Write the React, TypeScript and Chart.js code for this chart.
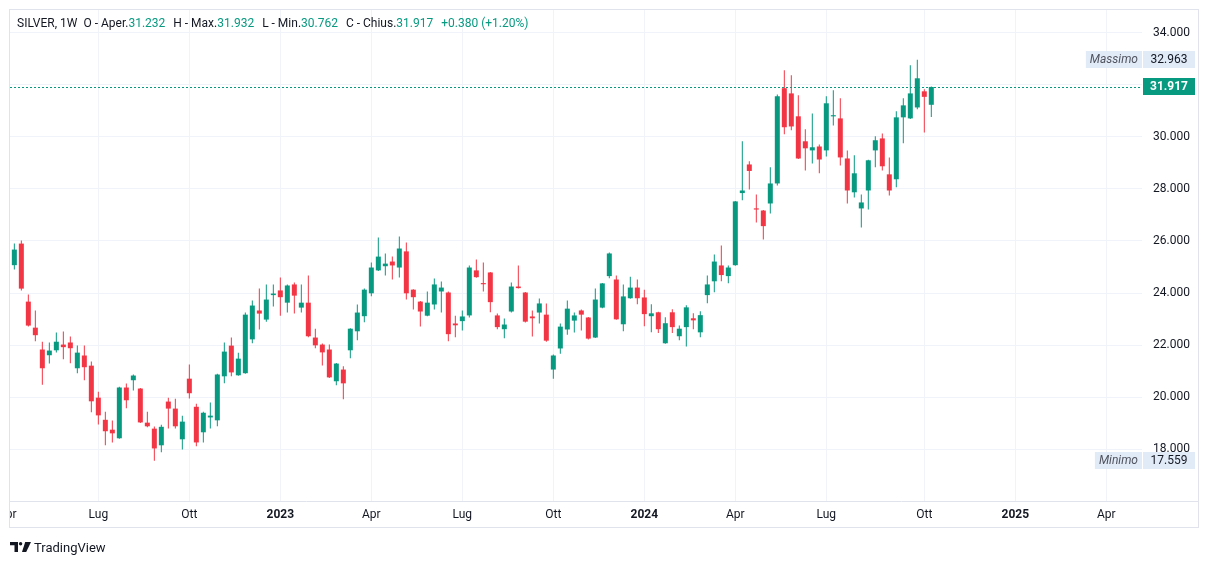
import React, { useEffect, useRef } from "react";
import { Chart, registerables } from "chart.js";

Chart.register(...registerables);

// ---- data ----
const symbolLabel = "SILVER, 1W";
const firstWeek = "2022-04-11"; // Monday of the first weekly bar
const futureWeeks = 30; // empty weeks to the right of the last bar
const opens = [
  25.07, 25.9, 23.67, 22.67, 21.83, 21.61, 21.8, 22.02, 22.1, 21.11,
  21.6, 21.21, 19.98, 19.13, 18.75, 18.42, 20.37, 20.65, 20.33, 19.02,
  18.79, 18.15, 19.83, 19.56, 18.38, 20.71, 19.63, 18.65, 19.22, 19.11,
  20.8, 21.98, 20.84, 20.92, 22.22, 23.33, 22.98, 23.92, 24.1, 23.63,
  24.33, 23.44, 23.63, 22.29, 22.02, 21.83, 20.61, 21.06, 21.8, 22.53,
  23.11, 23.99, 24.87, 25.03, 25.21, 24.98, 25.6, 24.13, 23.67, 23.13,
  23.56, 24.06, 24.02, 22.83, 22.92, 23.14, 24.87, 24.38, 24.79, 23.14,
  22.61, 23.29, 24.25, 24.02, 23.1, 23.25, 23.17, 21.06, 21.87, 22.6,
  22.94, 23.33, 23.06, 22.29, 23.44, 24.65, 24.52, 22.8, 23.8, 24.21,
  23.83, 23.11, 23.26, 22.07, 23.26, 22.34, 22.69, 23.03, 22.49, 23.92,
  24.45, 25.06, 24.65, 25.07, 27.84, 28.94, 27.25, 27.17, 27.44, 28.21,
  31.87, 31.67, 30.79, 29.83, 29.48, 29.63, 29.48, 30.79, 30.71, 29.17,
  27.87, 27.25, 27.94, 29.48, 29.94, 28.56, 28.37, 30.75, 30.71, 31.13,
  31.75, 31.232,
];
const highs = [
  25.9, 26.02, 23.94, 23.33, 22.13, 22.1, 22.48, 22.52, 22.33, 21.98,
  21.98, 21.37, 20.21, 19.44, 19.1, 20.4, 20.52, 20.87, 20.35, 19.44,
  18.87, 18.94, 19.98, 19.94, 19.29, 21.25, 19.75, 19.44, 19.79, 20.9,
  22.1, 22.29, 21.71, 23.25, 23.71, 24.17, 24.33, 24.33, 24.6, 24.33,
  24.4, 24.33, 24.67, 22.63, 22.06, 22.02, 21.31, 21.19, 22.65, 23.56,
  24.17, 25.17, 26.13, 25.52, 25.4, 26.17, 25.94, 24.15, 23.69, 24.06,
  24.56, 24.44, 24.06, 23.13, 23.33, 25.06, 25.29, 25.17, 24.81, 23.21,
  23.02, 24.4, 25.06, 24.04, 23.33, 23.79, 23.6, 21.64, 22.83, 23.71,
  23.25, 23.37, 23.08, 24.17, 24.39, 25.56, 24.67, 24.33, 24.63, 24.52,
  24.13, 23.57, 23.28, 23.07, 23.38, 22.75, 23.53, 23.22, 23.3, 24.67,
  25.48, 25.83, 25.06, 27.54, 29.83, 29.06, 27.79, 27.19, 28.83, 31.63,
  32.56, 32.37, 31.6, 30.29, 30.9, 29.71, 31.56, 31.79, 31.48, 29.48,
  29.29, 27.79, 29.12, 30.02, 30.13, 29.21, 30.98, 31.48, 32.75, 32.963,
  31.83, 31.932,
];
const lows = [
  24.9, 24.1, 22.71, 22.15, 20.48, 21.29, 21.72, 21.46, 21.3, 20.92,
  20.65, 19.42, 18.95, 18.15, 18.26, 18.4, 19.57, 20.26, 19.01, 18.84,
  17.559, 17.88, 18.8, 18.8, 17.99, 19.95, 18.11, 18.26, 18.8, 18.88,
  20.53, 20.8, 20.82, 20.9, 22.07, 22.6, 22.9, 23.48, 23.13, 23.25,
  23.21, 23.25, 22.3, 21.88, 21.22, 20.74, 20.46, 19.92, 21.49, 22.19,
  22.88, 23.88, 24.85, 24.67, 24.52, 24.6, 23.75, 23.37, 22.71, 23.11,
  23.37, 23.25, 22.15, 22.3, 22.56, 23.06, 24.59, 24.06, 23.26, 22.61,
  22.26, 23.25, 24.17, 22.87, 22.33, 22.83, 22.13, 20.71, 21.67, 22.4,
  22.48, 22.56, 22.21, 22.27, 23.42, 24.57, 22.97, 22.53, 23.78, 23.57,
  22.72, 22.49, 22.46, 22.05, 22.46, 22.19, 21.95, 22.61, 22.3, 23.61,
  24.03, 24.45, 24.38, 25.05, 27.56, 27.98, 26.71, 26.06, 27.06, 28.13,
  30.1, 30.25, 29.15, 28.71, 28.98, 28.6, 29.25, 30.44, 28.9, 27.44,
  27.67, 26.52, 27.21, 28.83, 28.71, 27.75, 28.06, 29.75, 30.69, 31.06,
  30.17, 30.762,
];
const closes = [
  25.67, 24.17, 22.75, 22.38, 21.11, 21.79, 22.13, 21.92, 21.88, 21.71,
  21.15, 19.84, 19.3, 18.69, 18.61, 20.37, 19.88, 20.83, 19.03, 18.88,
  18.03, 18.86, 19.56, 18.88, 19.06, 20.15, 18.26, 19.4, 19.29, 20.87,
  21.75, 20.95, 21.48, 23.17, 23.52, 23.21, 23.75, 23.98, 23.84, 24.29,
  23.9, 23.63, 22.34, 21.99, 21.72, 20.76, 21.29, 20.53, 22.63, 23.25,
  24.13, 24.98, 25.4, 25.13, 25.06, 25.71, 23.99, 23.84, 23.29, 23.63,
  24.33, 24.21, 22.42, 22.76, 23.1, 24.98, 24.61, 24.34, 23.65, 22.69,
  22.79, 24.25, 24.19, 22.9, 23.03, 23.6, 22.17, 21.6, 22.71, 23.4,
  23.14, 23.17, 22.25, 23.75, 24.37, 25.52, 22.99, 23.87, 24.21, 23.8,
  23.19, 23.22, 22.61, 22.84, 22.69, 22.63, 23.45, 22.95, 23.15, 24.33,
  25.21, 24.69, 24.98, 27.52, 27.94, 28.69, 27.21, 26.57, 28.21, 31.56,
  30.37, 30.4, 29.17, 29.56, 29.6, 29.13, 31.29, 30.83, 29.21, 27.94,
  28.6, 27.48, 29.1, 29.87, 28.87, 27.94, 30.75, 31.21, 31.67, 32.25,
  31.537, 31.917,
];
const priceTicks = [18, 20, 22, 24, 26, 28, 30, 32, 34];
const monthLabels: Record<number, string> = { 3: "Apr", 6: "Lug", 9: "Ott" };
const headerLabels = { open: "O - Aper.", high: "H - Max.", low: "L - Min.", close: "C - Chius." };
const maxLabel = "Massimo";
const minLabel = "Minimo";

// ---- style ----
const UP = "#089981";
const DOWN = "#F23645";
const TEXT = "#131722";
const GRID = "#f0f3fa";
const FRAME = "#e0e3eb";
const FONT = "Roboto, 'Liberation Sans', sans-serif";
const X_MIN = -0.62;
const X_MAX = 161.1;
const Y_MIN = 16.01;
const Y_MAX = 34.874;

const DAY = 86400000;
const startMs = Date.parse(firstWeek + "T00:00:00Z");
type XTick = { index: number; label: string; year: boolean };
function buildXTicks(): XTick[] {
  const out: XTick[] = [];
  const last = opens.length - 1 + futureWeeks;
  for (let i = -1; i <= last; i++) {
    const d = new Date(startMs + i * 7 * DAY);
    const p = new Date(startMs + (i - 1) * 7 * DAY);
    const m = d.getUTCMonth();
    if (m !== p.getUTCMonth() && m % 3 === 0) {
      out.push({
        index: i,
        label: m === 0 ? String(d.getUTCFullYear()) : monthLabels[m],
        year: m === 0,
      });
    }
  }
  return out;
}
const xTicks = buildXTicks();

const lastIdx = closes.length - 1;
const lastClose = closes[lastIdx];
const change = closes[lastIdx] - closes[lastIdx - 1];
const changePct = (change / closes[lastIdx - 1]) * 100;
const visMax = Math.max(...highs);
const visMin = Math.min(...lows);

const overlayPlugin = {
  id: "tvOverlay",
  beforeDatasetsDraw(chart: any) {
    const { ctx, chartArea, scales } = chart;
    const y = Math.round(scales.y.getPixelForValue(lastClose)) + 0.5;
    ctx.save();
    ctx.strokeStyle = UP;
    ctx.lineWidth = 1;
    ctx.setLineDash([2, 2]);
    ctx.beginPath();
    ctx.moveTo(chartArea.left, y);
    ctx.lineTo(chartArea.right, y);
    ctx.stroke();
    ctx.restore();
  },
  afterDraw(chart: any) {
    const { ctx, chartArea, scales } = chart;
    ctx.save();
    // clip area left of frame
    ctx.fillStyle = "#ffffff";
    ctx.fillRect(0, chartArea.bottom + 1, 9, 40);
    // frame
    ctx.strokeStyle = FRAME;
    ctx.lineWidth = 1;
    ctx.strokeRect(9.5, 9.5, 1189, 518);
    ctx.beginPath();
    ctx.moveTo(9, chartArea.bottom + 0.5);
    ctx.lineTo(1199, chartArea.bottom + 0.5);
    ctx.stroke();

    const valX = chartArea.right + 1;
    const valW = 52;
    const h = 17;
    const drawPair = (label: string | null, val: number, bg: string, fg: string, bold: boolean) => {
      const yc = scales.y.getPixelForValue(val);
      const top = Math.round(yc - h / 2);
      ctx.fillStyle = bg;
      ctx.fillRect(valX, top, valW, h);
      ctx.font = `${bold ? "bold " : ""}12px ${FONT}`;
      ctx.fillStyle = fg;
      ctx.textAlign = "center";
      ctx.textBaseline = "middle";
      ctx.fillText(val.toFixed(3), valX + valW / 2, top + h / 2 + 0.5);
      if (label) {
        ctx.font = `italic 12px ${FONT}`;
        const w = ctx.measureText(label).width + 8;
        ctx.fillStyle = bg;
        ctx.fillRect(chartArea.right - w, top, w, h);
        ctx.fillStyle = "#50535e";
        ctx.fillText(label, chartArea.right - w / 2, top + h / 2 + 0.5);
      }
    };
    drawPair(maxLabel, visMax, "#e1ebf8", TEXT, false);
    drawPair(minLabel, visMin, "#e1ebf8", TEXT, false);
    drawPair(null, lastClose, UP, "#ffffff", true);
    ctx.restore();
  },
};

export default function App() {
  const canvasRef = useRef<HTMLCanvasElement | null>(null);

  useEffect(() => {
    if (!canvasRef.current) return;
    const bodyColor = closes.map((c, i) => (c >= opens[i] ? UP : DOWN));
    const wicks = opens.map((_, i) => ({ x: i, y: [lows[i], highs[i]] }));
    const bodies = opens.map((o, i) => {
      let lo = Math.min(o, closes[i]);
      let hi = Math.max(o, closes[i]);
      if (hi - lo < 0.045) {
        const mid = (hi + lo) / 2;
        lo = mid - 0.0225;
        hi = mid + 0.0225;
      }
      return { x: i, y: [lo, hi] };
    });

    const chart = new Chart(canvasRef.current, {
      type: "bar",
      data: {
        datasets: [
          {
            label: "wick",
            data: wicks as any,
            backgroundColor: bodyColor,
            barThickness: 1,
            grouped: false,
            borderWidth: 0,
            inflateAmount: 0,
          } as any,
          {
            label: "body",
            data: bodies as any,
            backgroundColor: bodyColor,
            barThickness: 5,
            grouped: false,
            borderWidth: 0,
            inflateAmount: 0,
          } as any,
        ],
      },
      options: {
        animation: false,
        responsive: true,
        maintainAspectRatio: false,
        events: [],
        layout: { padding: { left: 10, top: 10, right: 11, bottom: 36 } },
        plugins: {
          legend: { display: false },
          tooltip: { enabled: false },
          title: { display: false },
        },
        scales: {
          x: {
            type: "linear",
            min: X_MIN,
            max: X_MAX,
            offset: false,
            afterFit: (s: any) => {
              s.height = 27;
              s.paddingLeft = 0;
              s.paddingRight = 0;
              s.paddingTop = 0;
              s.paddingBottom = 0;
            },
            afterBuildTicks: (s: any) => {
              s.ticks = xTicks.map((t) => ({ value: t.index }));
            },
            grid: {
              offset: false,
              drawTicks: false,
              color: (c: any) => (c.tick && c.tick.value < X_MIN ? "rgba(0,0,0,0)" : GRID),
            },
            border: { display: false },
            ticks: {
              autoSkip: false,
              maxRotation: 0,
              padding: 7,
              color: TEXT,
              font: (c: any) => {
                const t = xTicks.find((k) => k.index === c.tick?.value);
                return { family: FONT, size: 12, weight: t && t.year ? "bold" : "normal" } as any;
              },
              callback: (v: any) => {
                const t = xTicks.find((k) => k.index === v);
                return t ? t.label : "";
              },
            },
          },
          y: {
            type: "linear",
            position: "right",
            min: Y_MIN,
            max: Y_MAX,
            beginAtZero: false,
            afterFit: (s: any) => {
              s.width = 56;
              s.paddingLeft = 0;
              s.paddingRight = 0;
              s.paddingTop = 0;
              s.paddingBottom = 0;
            },
            afterBuildTicks: (s: any) => {
              s.ticks = priceTicks.map((v) => ({ value: v }));
            },
            grid: { color: GRID, drawTicks: false },
            border: { display: false },
            ticks: {
              padding: 11,
              color: TEXT,
              font: { family: FONT, size: 12 },
              callback: (v: any) => Number(v).toFixed(3),
            },
          },
        },
      },
      plugins: [overlayPlugin],
    });
    return () => chart.destroy();
  }, []);

  const val = (n: number) => <span style={{ color: UP }}>{n.toFixed(3)}</span>;
  const sign = change >= 0 ? "+" : "";

  return (
    <div
      style={{
        position: "absolute",
        left: 0,
        top: 0,
        width: 1209,
        height: 564,
        background: "#ffffff",
        fontFamily: FONT,
      }}
    >
      <canvas ref={canvasRef} style={{ position: "absolute", left: 0, top: 0 }} />
      <div
        style={{
          position: "absolute",
          left: 17,
          top: 16,
          height: 14,
          lineHeight: "14px",
          fontSize: 12,
          color: TEXT,
          whiteSpace: "nowrap",
          display: "flex",
          gap: 8,
        }}
      >
        <span style={{ marginRight: -2 }}>{symbolLabel}</span>
        <span>
          {headerLabels.open}
          {val(opens[lastIdx])}
        </span>
        <span>
          {headerLabels.high}
          {val(highs[lastIdx])}
        </span>
        <span>
          {headerLabels.low}
          {val(lows[lastIdx])}
        </span>
        <span>
          {headerLabels.close}
          {val(closes[lastIdx])}
        </span>
        <span style={{ color: UP }}>
          {sign}
          {change.toFixed(3)} ({sign}
          {changePct.toFixed(2)}%)
        </span>
      </div>
      <div
        style={{
          position: "absolute",
          left: 10,
          top: 539,
          height: 16,
          display: "flex",
          alignItems: "center",
          gap: 3,
          color: TEXT,
          fontSize: 13,
        }}
      >
        <svg width="21" height="10" viewBox="0 0 21 10" style={{ display: "block" }}>
          <path d="M0 0 H8 V10 H4.5 V3.2 H0 Z" fill={TEXT} />
          <circle cx="10.6" cy="1.7" r="1.7" fill={TEXT} />
          <path d="M15.2 0 H21 L16.2 10 H12 Z" fill={TEXT} />
        </svg>
        <span>TradingView</span>
      </div>
    </div>
  );
}
